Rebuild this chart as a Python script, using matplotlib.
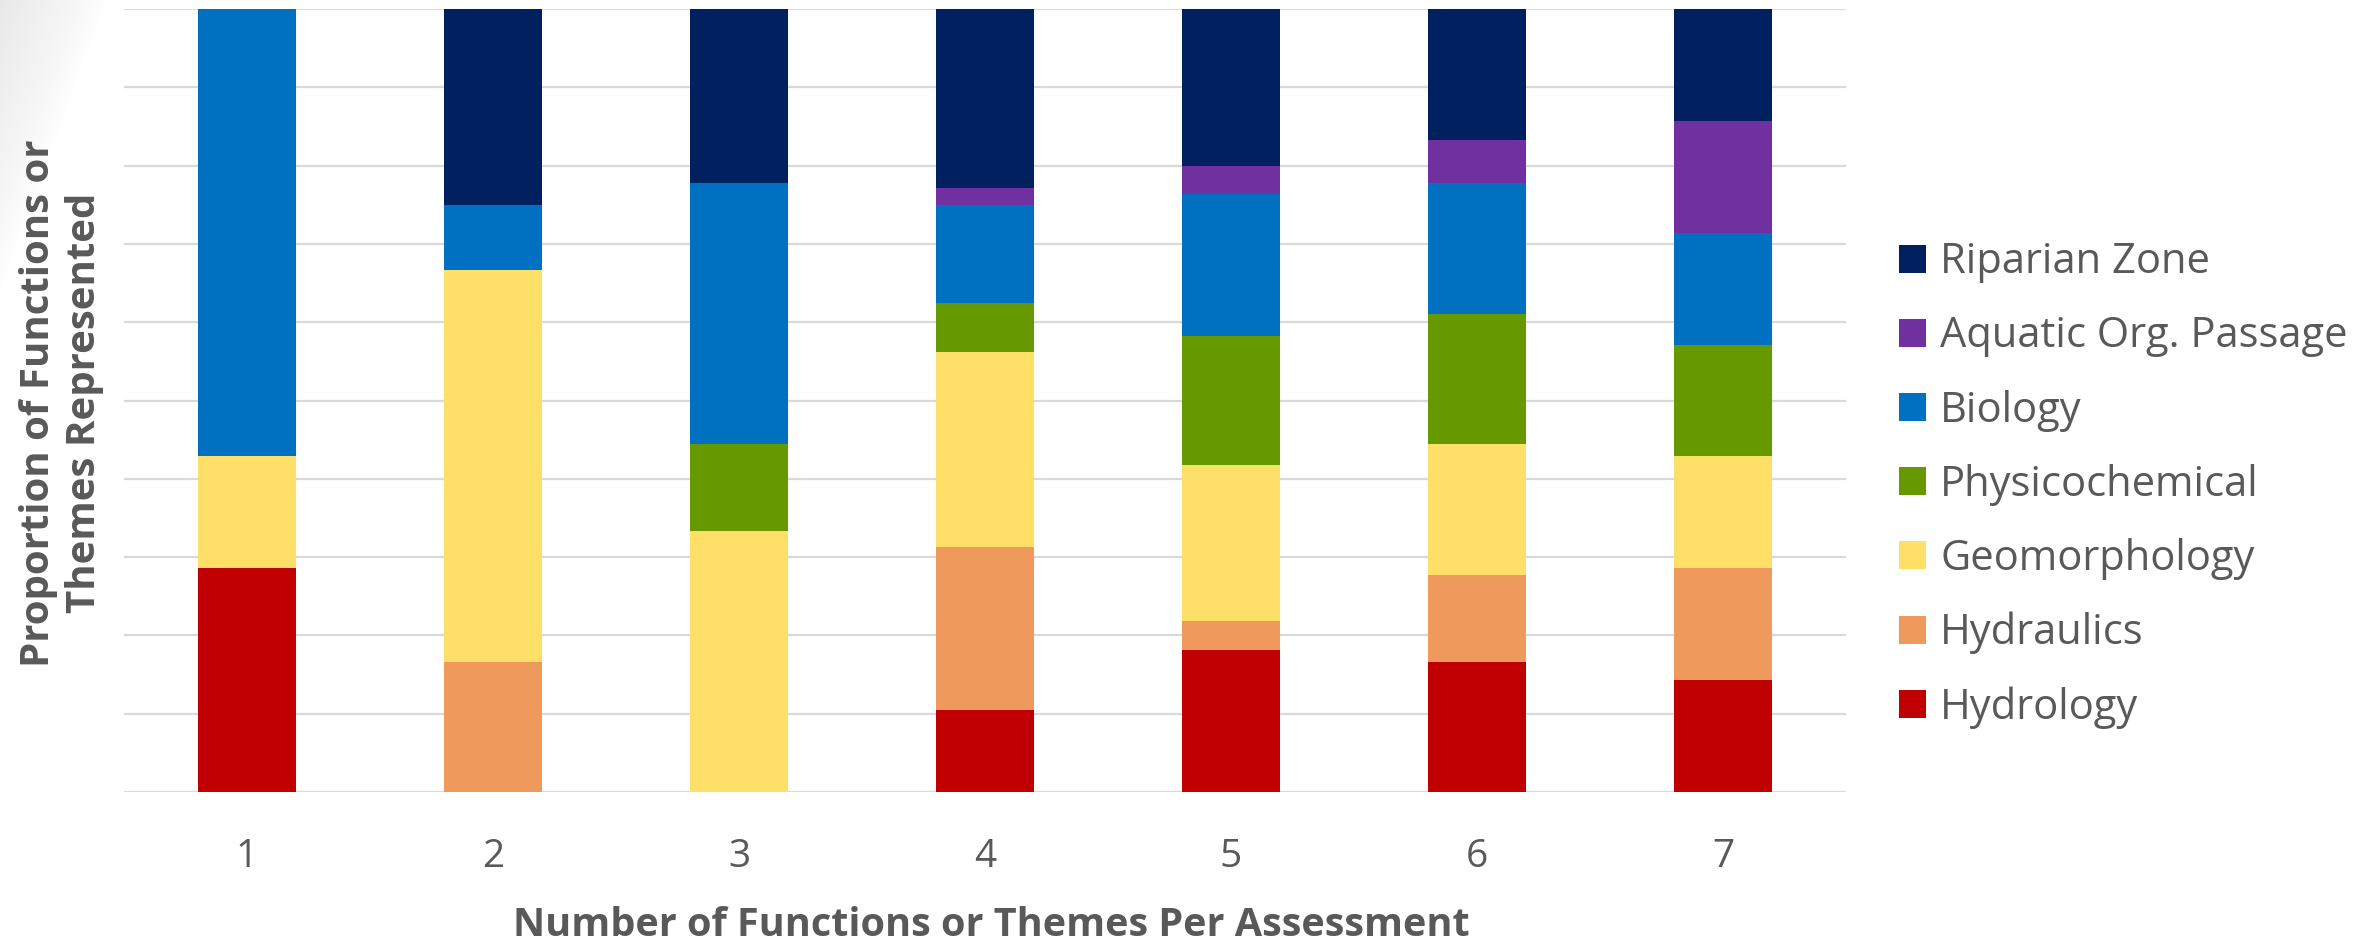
import numpy as np
import matplotlib
matplotlib.use("Agg")
import matplotlib.pyplot as plt

# share of each theme per number of themes assessed (fractions of 1)
groups = ["1", "2", "3", "4", "5", "6", "7"]
themes = ["Hydrology", "Hydraulics", "Geomorphology", "Physicochemical",
          "Biology", "Aquatic Org. Passage", "Riparian Zone"]
hydrology = [2/7, 0, 0, 5/48, 10/55, 3/18, 1/7]
hydraulics = [0, 1/6, 0, 10/48, 2/55, 2/18, 1/7]
geomorphology = [1/7, 1/2, 3/9, 12/48, 11/55, 3/18, 1/7]
physicochemical = [0, 0, 1/9, 3/48, 9/55, 3/18, 1/7]
biology = [4/7, 1/12, 3/9, 6/48, 10/55, 3/18, 1/7]
aquatic_passage = [0, 0, 0, 1/48, 2/55, 1/18, 1/7]
riparian_zone = [0, 1/4, 2/9, 11/48, 11/55, 3/18, 1/7]

colors = ["#C00000", "#F0995C", "#FEE068", "#669900",
          "#0070C0", "#7030A0", "#002060"]
series = [hydrology, hydraulics, geomorphology, physicochemical,
          biology, aquatic_passage, riparian_zone]

plt.rcParams["font.family"] = ["Open Sans", "DejaVu Sans"]
text_gray = "#595959"

fig = plt.figure(figsize=(23.74, 9.42), dpi=100)

# faint shading in the top-left corner
bg = fig.add_axes([0, 0, 1, 1], zorder=-5)
yy, xx = np.mgrid[0:942, 0:2374]
t = xx / 110.0 + yy / 300.0
shade = np.clip(1 - t, 0, 1) ** 0.8 * 0.09
bg.imshow(1 - shade, cmap="gray", vmin=0, vmax=1, aspect="auto",
          extent=[0, 1, 0, 1], origin="upper")
bg.axis("off")

ax = fig.add_axes([0.0522, 0.1592, 0.7254, 0.8312])
ax.patch.set_alpha(0)

x = np.arange(len(groups))
bottom = np.zeros(len(groups))
handles = []
for name, vals, c in zip(themes, series, colors):
    vals = np.array(vals)
    h = ax.bar(x, vals, width=0.4, bottom=bottom, color=c, label=name,
               zorder=3, linewidth=0)
    handles.append(h)
    bottom += vals

ax.set_xlim(-0.5, len(groups) - 0.5)
ax.set_ylim(0, 1)
ax.set_yticks(np.arange(0, 1.01, 0.1))
ax.set_yticklabels([])
ax.yaxis.grid(True, color="#D9D9D9", linewidth=1.6)
ax.tick_params(axis="both", length=0)
ax.set_xticks(x)
ax.set_xticklabels(groups, fontsize=28, color=text_gray)
ax.tick_params(axis="x", pad=33)
for s in ax.spines.values():
    s.set_visible(False)

fig.text(0.4175, 0.006, "Number of Functions or Themes Per Assessment",
         ha="center", va="baseline", fontsize=28.5, fontweight="bold",
         color=text_gray)
fig.text(0.026, 0.572, "Proportion of Functions or\nThemes Represented",
         ha="center", va="center", rotation=90, fontsize=29,
         fontweight="bold", color=text_gray, linespacing=1.25)

leg = ax.legend(handles[::-1], themes[::-1], loc="center left",
                bbox_to_anchor=(1.009, 0.392), frameon=False, fontsize=30,
                handlelength=0.65, handleheight=0.65, handletextpad=0.34,
                labelspacing=0.77, labelcolor=text_gray)

fig.savefig("out.png", dpi=100)
